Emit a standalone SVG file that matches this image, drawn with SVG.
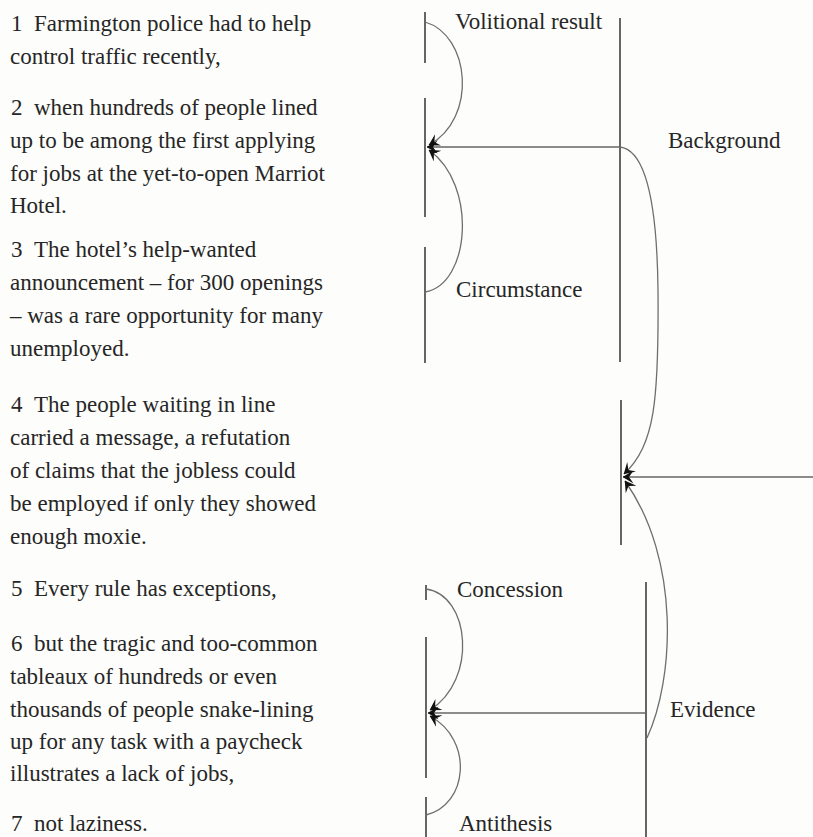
<svg xmlns="http://www.w3.org/2000/svg" width="813" height="837" viewBox="0 0 813 837">
<style>
.t{font-family:"Liberation Serif","Times New Roman",serif;font-size:23px;fill:#262626}
.seg{stroke:#555;stroke-width:1.8;fill:none}
.arc{stroke:#6e6e6e;stroke-width:1.3;fill:none}
.hl{stroke:#666;stroke-width:1.6;fill:none}
</style>
<defs>
<marker id="ah" viewBox="0 0 11 14" refX="10.5" refY="7" markerWidth="11" markerHeight="14" markerUnits="userSpaceOnUse" orient="auto">
<path d="M0,0.5 L11,7 L0,13.5 L4.5,7 Z" fill="#111"/>
</marker>
</defs>
<rect width="813" height="837" fill="#fdfdfb"/>

<g id="unit1">
<text class="t" y="31"><tspan x="11">1</tspan><tspan x="34">Farmington police had to help</tspan></text>
<text class="t" x="10" y="64">control traffic recently,</text>
</g>
<g id="unit2">
<text class="t" y="115"><tspan x="11">2</tspan><tspan x="34">when hundreds of people lined</tspan></text>
<text class="t" x="10" y="148">up to be among the first applying</text>
<text class="t" x="10" y="181">for jobs at the yet-to-open Marriot</text>
<text class="t" x="10" y="213">Hotel.</text>
</g>
<g id="unit3">
<text class="t" y="257"><tspan x="11">3</tspan><tspan x="34">The hotel’s help-wanted</tspan></text>
<text class="t" x="10" y="290">announcement – for 300 openings</text>
<text class="t" x="10" y="323">– was a rare opportunity for many</text>
<text class="t" x="10" y="356">unemployed.</text>
</g>
<g id="unit4">
<text class="t" y="412"><tspan x="11">4</tspan><tspan x="34">The people waiting in line</tspan></text>
<text class="t" x="10" y="445">carried a message, a refutation</text>
<text class="t" x="10" y="478">of claims that the jobless could</text>
<text class="t" x="10" y="511">be employed if only they showed</text>
<text class="t" x="10" y="544">enough moxie.</text>
</g>
<g id="unit5">
<text class="t" y="596"><tspan x="11">5</tspan><tspan x="34">Every rule has exceptions,</tspan></text>
</g>
<g id="unit6">
<text class="t" y="651"><tspan x="11">6</tspan><tspan x="34">but the tragic and too-common</tspan></text>
<text class="t" x="10" y="684">tableaux of hundreds or even</text>
<text class="t" x="10" y="717">thousands of people snake-lining</text>
<text class="t" x="10" y="749">up for any task with a paycheck</text>
<text class="t" x="10" y="781">illustrates a lack of jobs,</text>
</g>
<g id="unit7">
<text class="t" y="831"><tspan x="11">7</tspan><tspan x="34">not laziness.</tspan></text>
</g>

<g id="span1"><line class="seg" x1="425" y1="12" x2="425" y2="63"/></g>
<g id="span2"><line class="seg" x1="425" y1="98" x2="425" y2="217"/></g>
<g id="span3"><line class="seg" x1="425" y1="247" x2="425" y2="363"/></g>
<g id="span1-3"><line class="seg" x1="620" y1="18" x2="620" y2="362"/></g>
<g id="span4"><line class="seg" x1="621" y1="400" x2="621" y2="545"/></g>
<g id="span5"><line class="seg" x1="426" y1="585" x2="426" y2="600"/></g>
<g id="span6"><line class="seg" x1="426" y1="637" x2="426" y2="778"/></g>
<g id="span7"><line class="seg" x1="426" y1="797" x2="426" y2="837"/></g>
<g id="span5-7"><line class="seg" x1="646" y1="582" x2="646" y2="837"/></g>

<g id="labels">
<text class="t" x="455" y="29">Volitional result</text>
<text class="t" x="668" y="148">Background</text>
<text class="t" x="456" y="297">Circumstance</text>
<text class="t" x="457" y="597">Concession</text>
<text class="t" x="670" y="717">Evidence</text>
<text class="t" x="459" y="831">Antithesis</text>
</g>

<g id="connectors">
<path class="arc" d="M425,22 C470,35 478,118 429,145" marker-end="url(#ah)"/>
<path class="arc" d="M425,292 C470,285 478,185 429,150" marker-end="url(#ah)"/>
<line class="hl" x1="620" y1="147" x2="427" y2="147" marker-end="url(#ah)"/>
<path class="arc" d="M620,147 C645,150 657,200 658,290 C659,400 655,445 624,474" marker-end="url(#ah)"/>
<line class="hl" x1="813" y1="477" x2="623" y2="477" marker-end="url(#ah)"/>
<path class="arc" d="M647,738 C674,680 681,560 625,481" marker-end="url(#ah)"/>
<line class="hl" x1="646" y1="713" x2="428" y2="713" marker-end="url(#ah)"/>
<path class="arc" d="M426,589 C470,595 478,680 430,710" marker-end="url(#ah)"/>
<path class="arc" d="M426,815 C468,805 474,740 430,716" marker-end="url(#ah)"/>
</g>
</svg>
